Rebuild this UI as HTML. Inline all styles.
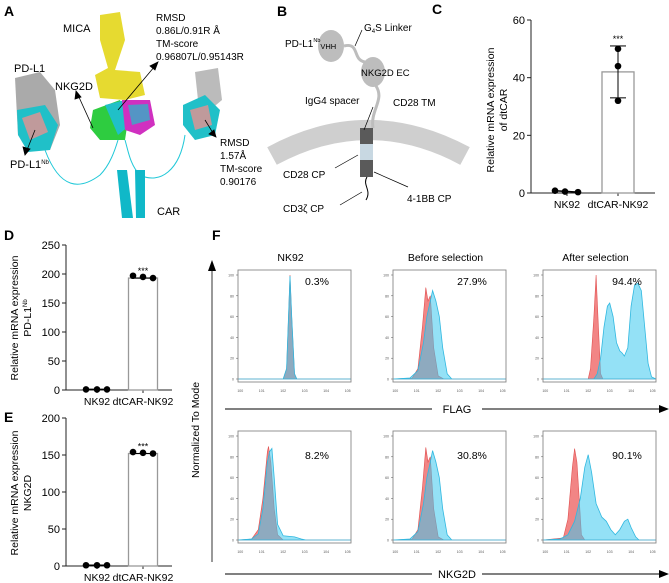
<!DOCTYPE html>
<html><head><meta charset="utf-8"><style>
body{margin:0;background:#fff}
svg{display:block;font-family:"Liberation Sans",sans-serif}
</style></head><body>
<svg id="fig" width="669" height="583" viewBox="0 0 669 583" xmlns="http://www.w3.org/2000/svg">
<!-- Panel A -->
<g>
<text x="4" y="16" font-size="14" font-weight="bold">A</text>
<text x="63" y="32" font-size="11">MICA</text>
<text x="156" y="21" font-size="10"><tspan x="156">RMSD</tspan><tspan x="156" dy="13">0.86L/0.91R Å</tspan><tspan x="156" dy="13">TM-score</tspan><tspan x="156" dy="13">0.96807L/0.95143R</tspan></text>
<text x="14" y="72" font-size="11">PD-L1</text>
<text x="55" y="90" font-size="11">NKG2D</text>
<text x="10" y="168" font-size="11">PD-L1<tspan font-size="6" dy="-4">Nb</tspan></text>
<text x="220" y="146" font-size="10"><tspan x="220">RMSD</tspan><tspan x="220" dy="13">1.57Å</tspan><tspan x="220" dy="13">TM-score</tspan><tspan x="220" dy="13">0.90176</tspan></text>
<text x="157" y="215" font-size="11">CAR</text>
<path d="M100,15 L120,12 L125,40 L115,70 L140,72 L145,95 L125,100 L100,98 L95,75 L108,68 L100,40 Z" fill="#e3d61a" opacity="0.9"/>
<path d="M15,78 L40,72 L55,90 L60,125 L50,150 L30,150 L18,135 Z" fill="#aaa"/>
<path d="M17,110 L45,105 L58,125 L50,150 L28,152 L18,135 Z" fill="#20c0c8"/>
<path d="M22,118 L40,112 L48,132 L30,140 Z" fill="#e89090" opacity="0.8"/>
<path d="M195,72 L218,68 L222,100 L210,110 L198,100 Z" fill="#bbb"/>
<path d="M183,105 L205,95 L220,110 L215,135 L195,140 L183,125 Z" fill="#20c0c8"/>
<path d="M190,110 L208,105 L212,125 L195,130 Z" fill="#e89090" opacity="0.8"/>
<path d="M93,110 L120,100 L128,120 L125,140 L100,140 L90,128 Z" fill="#2ecc40"/>
<path d="M105,105 L125,100 L130,125 L118,135 Z" fill="#20c0c8"/>
<path d="M122,100 L150,100 L155,125 L140,135 L125,130 Z" fill="#d030c0"/>
<path d="M128,105 L148,104 L150,120 L132,125 Z" fill="#20c0c8" opacity="0.7"/>
<path d="M45,150 C60,190 80,190 100,175 C110,165 115,150 118,140 M185,135 C180,170 160,185 140,175 C130,165 128,150 125,140" fill="none" stroke="#20c8d8" stroke-width="1"/>
<path d="M117,170 L127,170 L133,218 L122,218 Z M135,170 L145,170 L145,218 L136,218 Z" fill="#10b8c8"/>
<g stroke="#000" stroke-width="0.8" fill="#000">
<line x1="118" y1="110" x2="155" y2="66"/><path d="M158,62 L150,66 L155,70 Z"/>
<line x1="93" y1="128" x2="78" y2="95"/><path d="M76,91 L75,99 L81,97 Z"/>
<line x1="35" y1="130" x2="27" y2="150"/><path d="M25,155 L23,147 L30,149 Z"/>
<line x1="205" y1="120" x2="213" y2="133"/><path d="M216,137 L209,134 L214,130 Z"/>
</g>
</g>
<!-- Panel B -->
<g>
<text x="277" y="16" font-size="14" font-weight="bold">B</text>
<path d="M272,156 Q368,104 465,156" fill="none" stroke="#cfcfcf" stroke-width="20"/>
<ellipse cx="331" cy="46" rx="13" ry="16" fill="#bdbdbd"/>
<ellipse cx="373" cy="72" rx="12" ry="15" fill="#bdbdbd"/>
<path d="M344,46 C360,42 352,60 365,62 M376,86 C385,100 370,110 373,128" fill="none" stroke="#bdbdbd" stroke-width="3"/>
<rect x="360" y="128" width="13" height="16" fill="#5a5a5a"/>
<rect x="360" y="144" width="13" height="16" fill="#c8d8e2"/>
<rect x="360" y="160" width="13" height="17" fill="#5a5a5a"/>
<path d="M367,177 C362,185 372,190 366,200" fill="none" stroke="#000" stroke-width="1"/>
<g stroke="#000" stroke-width="0.7"><line x1="362" y1="30" x2="355" y2="46"/><line x1="373" y1="107" x2="364" y2="130"/><line x1="358" y1="155" x2="335" y2="168"/><line x1="374" y1="172" x2="408" y2="187"/><line x1="362" y1="192" x2="340" y2="205"/></g>
<g font-size="10">
<text x="285" y="47">PD-L1<tspan font-size="5.5" dy="-5">Nb</tspan><tspan font-size="7.5" dy="7">VHH</tspan></text>
<text x="364" y="31">G<tspan font-size="6" dy="2">4</tspan><tspan dy="-2">S Linker</tspan></text>
<text x="361" y="76" font-size="9.5">NKG2D EC</text>
<text x="305" y="104">IgG4 spacer</text>
<text x="393" y="106">CD28 TM</text>
<text x="283" y="178">CD28 CP</text>
<text x="283" y="212">CD3ζ CP</text>
<text x="407" y="202">4-1BB CP</text>
</g>
</g>
<text x="432" y="14" font-size="14" font-weight="bold">C</text>
<text x="4" y="240" font-size="14" font-weight="bold">D</text>
<text x="4" y="422" font-size="14" font-weight="bold">E</text>
<text x="212" y="240" font-size="14" font-weight="bold">F</text>
<g id="bars"></g>
<g id="flow"></g>
</svg>
<script>
const barCats = ["NK92", "dtCAR-NK92"];
const cTicks = [0, 20, 40, 60];
const cBarVals = [0.5, 42];
const cDotsNK = [0.8, 0.5, 0.3];
const cDotsCAR = [50, 44, 32];
const cErr = [33, 51];
const dTicks = [0, 50, 100, 150, 200, 250];
const dBarVals = [0.5, 193];
const dDotsNK = [1, 1, 1];
const dDotsCAR = [197, 195, 193];
const eTicks = [0, 50, 100, 150, 200];
const eBarVals = [0.5, 152];
const eDotsNK = [1, 1, 1];
const eDotsCAR = [154, 153, 152];

const flowTitles = ["NK92", "Before selection", "After selection"];
const flowPercents = [["0.3%", "27.9%", "94.4%"], ["8.2%", "30.8%", "90.1%"]];
const flagRed1 = [[0,0],[0.40,0],[0.43,10],[0.45,70],[0.46,100],[0.475,60],[0.50,5],[0.52,0],[1,0]];
const flagBlue1 = [[0,0],[0.40,0],[0.43,10],[0.45,70],[0.46,99],[0.475,60],[0.50,5],[0.52,0],[1,0]];
const flagRed2 = [[0,0],[0.17,1],[0.22,10],[0.26,50],[0.29,88],[0.31,75],[0.33,80],[0.36,30],[0.40,3],[0.45,0],[1,0]];
const flagBlue2 = [[0,0],[0.15,1],[0.22,8],[0.27,35],[0.30,60],[0.33,75],[0.35,85],[0.38,75],[0.41,60],[0.44,30],[0.48,5],[0.52,0],[1,0]];
const flagRed3 = [[0,0],[0.40,0],[0.42,10],[0.45,60],[0.47,100],[0.49,50],[0.51,5],[0.53,0],[1,0]];
const flagBlue3 = [[0,0],[0.45,0],[0.48,5],[0.51,20],[0.54,50],[0.57,70],[0.59,73],[0.62,60],[0.65,35],[0.68,27],[0.70,25],[0.72,22],[0.75,30],[0.78,70],[0.81,90],[0.84,92],[0.87,85],[0.90,50],[0.93,15],[0.96,2],[1,0]];
const nkRed1 = [[0,0],[0.12,1],[0.18,10],[0.22,40],[0.26,85],[0.27,90],[0.29,75],[0.32,30],[0.35,5],[0.40,0],[1,0]];
const nkBlue1 = [[0,0],[0.12,1],[0.18,6],[0.22,30],[0.26,75],[0.28,85],[0.30,88],[0.32,60],[0.35,15],[0.40,4],[0.50,3],[0.56,1],[0.60,0],[1,0]];
const nkRed2 = [[0,0],[0.17,1],[0.22,10],[0.26,50],[0.29,89],[0.31,75],[0.33,80],[0.36,30],[0.40,3],[0.45,0],[1,0]];
const nkBlue2 = [[0,0],[0.15,1],[0.22,8],[0.27,35],[0.30,60],[0.33,75],[0.35,86],[0.38,75],[0.41,60],[0.44,30],[0.48,5],[0.52,0],[1,0]];
const nkRed3 = [[0,0],[0.18,2],[0.22,20],[0.26,70],[0.28,88],[0.30,75],[0.32,40],[0.34,5],[0.37,0],[1,0]];
const nkBlue3 = [[0,0],[0.15,1],[0.22,5],[0.28,18],[0.33,40],[0.37,70],[0.40,82],[0.43,65],[0.47,35],[0.52,22],[0.56,18],[0.60,10],[0.64,5],[0.68,10],[0.72,18],[0.75,20],[0.78,12],[0.82,3],[0.85,0],[1,0]];
const flowTicks = [0, 20, 40, 60, 80, 100];

const NS = "http://www.w3.org/2000/svg";
function mk(parent, tag, attrs, text) {
  const e = document.createElementNS(NS, tag);
  for (const k in attrs) e.setAttribute(k, attrs[k]);
  if (text !== undefined) e.textContent = text;
  parent.appendChild(e);
  return e;
}

function barChart(cfg) {
  const g = mk(document.getElementById("bars"), "g", {});
  
  
  const max = cfg.ticks[cfg.ticks.length - 1];
  const y = v => cfg.y0 - v / max * (cfg.y0 - cfg.yTop);
  mk(g, "line", {x1: cfg.ax, y1: y(max), x2: cfg.ax, y2: cfg.y0, stroke: "#222", "stroke-width": 1});
  mk(g, "line", {x1: cfg.ax, y1: cfg.y0, x2: cfg.axEnd, y2: cfg.y0, stroke: "#222", "stroke-width": 1});
  cfg.ticks.forEach(t => {
    mk(g, "line", {x1: cfg.ax - 4, y1: y(t), x2: cfg.ax, y2: y(t), stroke: "#222"});
    const tl = mk(g, "text", {x: cfg.ax - 6, y: y(t) + 4, "font-size": 11, "text-anchor": "end"}, t);
    
    
  });
  barCats.forEach((c, i) => {
    const cx = cfg.cx[i];
    mk(g, "line", {x1: cx, y1: cfg.y0, x2: cx, y2: cfg.y0 + 3, stroke: "#222"});
    const lab = mk(g, "text", {x: cx, y: cfg.y0 + 15, "font-size": 10.5, "text-anchor": "middle"}, c);
    
    
    if (i === 1) {
      const b = mk(g, "rect", {x: cx - cfg.bw / 2, y: y(cfg.bars[i]), width: cfg.bw, height: cfg.y0 - y(cfg.bars[i]), fill: "#fff", stroke: "#999", "stroke-width": 1.3});
      
      
    }
  });
  mk(g, "line", {x1: cfg.nkX[0], y1: y(cfg.dotsNK[0]), x2: cfg.nkX[2], y2: y(cfg.dotsNK[2]), stroke: "#000", "stroke-width": 1.5});
  cfg.dotsNK.forEach((v, j) => {
    const d = mk(g, "circle", {cx: cfg.nkX[j], cy: y(v), r: 3.3, fill: "#000"});
    
    
  });
  const lo = Math.min(...cfg.err), hi = Math.max(...cfg.err);
  const cx = cfg.cx[1];
  mk(g, "line", {x1: cx, y1: y(hi), x2: cx, y2: y(lo), stroke: "#000"});
  mk(g, "line", {x1: cx - 8, y1: y(hi), x2: cx + 8, y2: y(hi), stroke: "#000"});
  mk(g, "line", {x1: cx - 8, y1: y(lo), x2: cx + 8, y2: y(lo), stroke: "#000"});
  cfg.dotsCAR.forEach((v, j) => {
    const d = mk(g, "circle", {cx: cfg.carX[j], cy: y(v), r: 3.3, fill: "#000"});
    
    
  });
  const st = mk(g, "text", {x: cx, y: y(hi) - 4, "font-size": 9, "text-anchor": "middle"}, "***");
  
  
  const yl = mk(g, "text", {transform: `translate(${cfg.lx},${cfg.ly}) rotate(-90)`, "font-size": 10.5, "text-anchor": "middle"});
  
  
  mk(yl, "tspan", {x: 0, y: 0}, "Relative mRNA expression");
  mk(yl, "tspan", {x: 0, y: 13}, cfg.l2);
  if (cfg.sup) mk(yl, "tspan", {"font-size": 6, dy: -4}, cfg.sup);
}

barChart({name: "chart-c-dtcar", ticks: cTicks, y0: 193, yTop: 20, ax: 531, axEnd: 655, cx: [567, 618], bw: 32,
  bars: cBarVals, dotsNK: cDotsNK, dotsCAR: cDotsCAR, err: cErr, nkX: [555, 565, 578], carX: [618, 618, 618],
  lx: 494, ly: 110, l2: "of dtCAR"});
barChart({name: "chart-d-pdl1nb", ticks: dTicks, y0: 390, yTop: 245, ax: 66, axEnd: 172, cx: [97, 143], bw: 29,
  bars: dBarVals, dotsNK: dDotsNK, dotsCAR: dDotsCAR, err: [dBarVals[1], dBarVals[1]], nkX: [86, 97, 107], carX: [133, 143, 153],
  lx: 18, ly: 318, l2: "PD-L1", sup: "Nb"});
barChart({name: "chart-e-nkg2d", ticks: eTicks, y0: 566, yTop: 418, ax: 66, axEnd: 172, cx: [97, 143], bw: 29,
  bars: eBarVals, dotsNK: eDotsNK, dotsCAR: eDotsCAR, err: [eBarVals[1], eBarVals[1]], nkX: [86, 97, 107], carX: [133, 143, 153],
  lx: 18, ly: 493, l2: "NKG2D"});

const fg = document.getElementById("flow");
const boxX = [238, 393, 543], boxW = 113;
const rowY = [270, 431], boxH = 112;
const curves = [[[flagRed1, flagBlue1], [flagRed2, flagBlue2], [flagRed3, flagBlue3]],
                [[nkRed1, nkBlue1], [nkRed2, nkBlue2], [nkRed3, nkBlue3]]];
flowTitles.forEach((t, i) => {
  const e = mk(fg, "text", {x: boxX[i] + boxW / 2 - 4, y: 261, "font-size": 10.5, "text-anchor": "middle"}, t);
  
  
});
rowY.forEach((ry, r) => {
  boxX.forEach((bx, c) => {
    const g = mk(fg, "g", {});
    
    
    const x = f => bx + f * boxW;
    const y = v => ry + boxH - 3 - v / 100 * (boxH - 8);
    const [red, blue] = curves[r][c];
    const path = arr => "M" + arr.map(p => x(p[0]).toFixed(1) + "," + y(p[1]).toFixed(1)).join(" L") + " Z";
    const rp = mk(g, "path", {d: path(red), fill: "#f07070", "fill-opacity": 0.85, stroke: "#e05050", "stroke-width": 0.6});
    
    
    const bp = mk(g, "path", {d: path(blue), fill: "#3cc8ee", "fill-opacity": 0.55, stroke: "#30b8e0", "stroke-width": 0.8});
    
    
    mk(g, "rect", {x: bx, y: ry, width: boxW, height: boxH, fill: "none", stroke: "#888", "stroke-width": 0.9});
    flowTicks.forEach(t => {
      mk(g, "line", {x1: bx - 2, y1: y(t), x2: bx, y2: y(t), stroke: "#555", "stroke-width": 0.5});
      mk(g, "text", {x: bx - 4, y: y(t) + 1.5, "font-size": 3.5, "text-anchor": "end", fill: "#555"}, t);
    });
    for (let k = 0; k <= 5; k++) {
      mk(g, "text", {x: x(0.02 + k * 0.19), y: ry + boxH + 10, "font-size": 3.5, "text-anchor": "middle", fill: "#555"}, "10" + k);
    }
    const pt = mk(g, "text", {x: bx + (c === 2 ? 84 : 79), y: ry + (r === 0 ? 15 : 28), "font-size": 10.5, "text-anchor": "middle"}, flowPercents[r][c]);
    
    
  });
});
mk(fg, "line", {x1: 212, y1: 562, x2: 212, y2: 270, stroke: "#333", "stroke-width": 1});
mk(fg, "path", {d: "M212,260 L208,271 L216,271 Z", fill: "#000"});
const ylab = mk(fg, "text", {transform: "translate(199,430) rotate(-90)", "font-size": 10.5, "text-anchor": "middle"}, "Normalized To Mode");


[[409, "FLAG"], [574, "NKG2D"]].forEach(([yy, t]) => {
  mk(fg, "line", {x1: 225, y1: yy, x2: 432, y2: yy, stroke: "#000"});
  mk(fg, "line", {x1: 482, y1: yy, x2: 660, y2: yy, stroke: "#000"});
  mk(fg, "path", {d: `M669,${yy} L659,${yy - 4} L659,${yy + 4} Z`, fill: "#000"});
  const e = mk(fg, "text", {x: 457, y: yy + 4, "font-size": 11, "text-anchor": "middle"}, t);
  
  
});
</script>
</body></html>
